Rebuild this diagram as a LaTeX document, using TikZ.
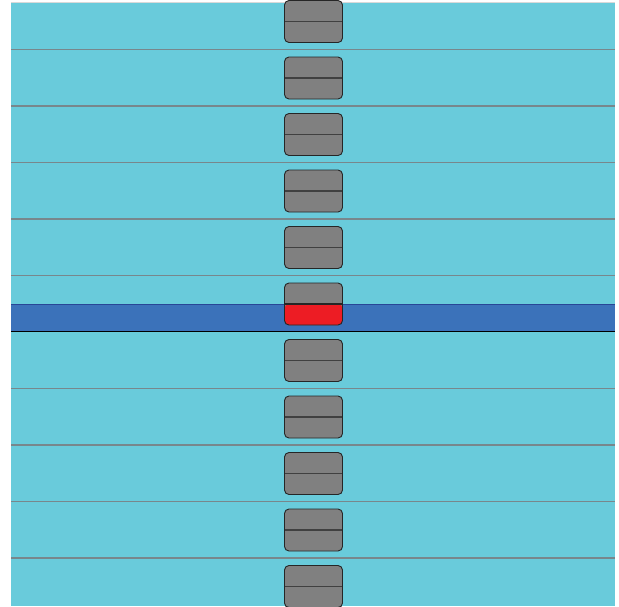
\documentclass[tikz,border=0pt]{standalone}
\usepackage{tikz}
\usetikzlibrary{positioning}
\definecolor{seablue}{RGB}{105,203,219}
\definecolor{bandblue}{RGB}{59,114,186}
\definecolor{bandedge}{RGB}{40,70,150}
\definecolor{rulegrey}{RGB}{120,135,140}
\definecolor{cellgrey}{RGB}{128,128,128}
\definecolor{cellred}{RGB}{237,28,36}

\tikzset{
    cell/.style={draw=black!85,fill=cellgrey,rounded corners=4.5pt,line width=0.9pt,
        minimum width=58pt,minimum height=42pt,inner sep=0pt,
        path picture={\draw[black!75,line width=1.3pt] (path picture bounding box.west) -- (path picture bounding box.east);}},
    hotcell/.style={cell,
        path picture={\fill[cellred] (path picture bounding box.west) rectangle (path picture bounding box.south east);
            \draw[black!85,line width=1.3pt] (path picture bounding box.west) -- (path picture bounding box.east);}}
}

\begin{document}
\begin{tikzpicture}[x=1pt,y=-1pt]
    \useasboundingbox (0,0) rectangle (619,606);
    \fill[seablue] (11,2.5) rectangle (615,606);
    \draw[white!85!black,line width=0.6pt] (11,2.5) -- (615,2.5);
    \foreach \k in {0,1,2,3,4,6,7,8,9} {
        \draw[rulegrey,line width=1.1pt] (11,49.5+56.5*\k) -- (615,49.5+56.5*\k);
    }
    % the highlighted band
    \fill[bandblue] (11,304) rectangle (615,332);
    \draw[bandedge,line width=0.9pt] (11,304) -- (615,304);
    \draw[black,line width=1.8pt] (11,331.5) -- (615,331.5);
    \foreach \k in {0,1,2,3,4,6,7,8,9,10} {
        \node[cell] (cell\k) at (313.5,21.5+56.5*\k) {};
    }
    \node[hotcell] (cell5) at (313.5,304) {};
\end{tikzpicture}
\end{document}
